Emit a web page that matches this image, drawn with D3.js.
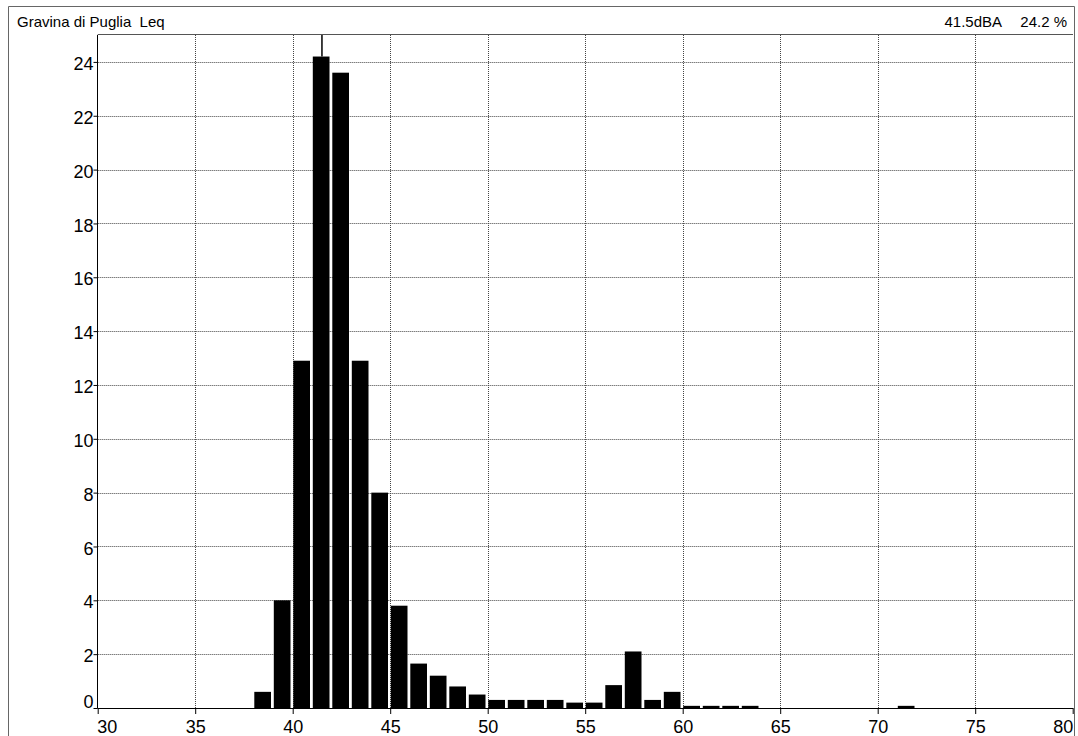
<!DOCTYPE html>
<html>
<head>
<meta charset="utf-8">
<title>Gravina di Puglia Leq</title>
<script src="https://cdn.jsdelivr.net/npm/d3@7"></script>
<style>
  body { margin: 0; background: #fff; }
  text { font-family: Arial, "Liberation Sans", sans-serif; fill: #000; }
</style>
</head>
<body>
<script>
// level class (dBA, lower edge of 1 dB bin) and share of time (%)
var levels = [38, 39, 40, 41, 42, 43, 44, 45, 46, 47, 48, 49, 50, 51, 52, 53, 54, 55, 56, 57, 58, 59, 60, 61, 62, 63, 71];
var percent = [0.6, 4.0, 12.9, 24.2, 23.6, 12.9, 8.0, 3.8, 1.65, 1.2, 0.8, 0.5, 0.3, 0.3, 0.3, 0.3, 0.2, 0.2, 0.85, 2.1, 0.3, 0.6, 0.08, 0.08, 0.08, 0.08, 0.08];
var xTicks = [30, 35, 40, 45, 50, 55, 60, 65, 70, 75, 80];
var yTicks = [0, 2, 4, 6, 8, 10, 12, 14, 16, 18, 20, 22, 24];
var title = "Gravina di Puglia  Leq";
var markerLevel = 41.5, markerValue = 24.2, markerLabel = "41.5dBA", markerPct = "24.2 %";

var width = 1078, height = 736;
var pLeft = 97.7, pRight = 1073, pTop = 35, pBottom = 708;

var svg = d3.select("body").append("svg")
  .attr("width", width).attr("height", height);

var x = d3.scaleLinear().domain([30, 80]).range([pLeft, pRight - 0.3]);
var y = d3.scaleLinear().domain([0, 25]).range([pBottom, pTop]);

// outer frame
svg.append("path")
  .attr("d", "M8.5," + (height + 2) + "V6.5H" + (pRight + 1.5) + "V" + (height + 2))
  .attr("fill", "none").attr("stroke", "#666").attr("stroke-width", 1);

// grid
var grid = svg.append("g").attr("stroke", "#444").attr("stroke-width", 1).attr("stroke-dasharray", "1,1");
grid.selectAll(".gx").data(xTicks.slice(1, -1)).enter().append("line")
  .attr("x1", function (d) { return Math.round(x(d)) + 0.5; })
  .attr("x2", function (d) { return Math.round(x(d)) + 0.5; })
  .attr("y1", pTop).attr("y2", pBottom);
grid.selectAll(".gy").data(yTicks.slice(1)).enter().append("line")
  .attr("y1", function (d) { return Math.round(y(d)) + 0.5; })
  .attr("y2", function (d) { return Math.round(y(d)) + 0.5; })
  .attr("x1", pLeft).attr("x2", pRight);

// bars
svg.selectAll(".bar").data(levels).enter().append("rect")
  .attr("x", function (d) { return x(d) + 0.6; })
  .attr("width", function (d) { return x(d + 1) - x(d) - 2.8; })
  .attr("y", function (d, i) { return y(percent[i]); })
  .attr("height", function (d, i) { return pBottom - y(percent[i]); })
  .attr("fill", "#000");

// cursor line
svg.append("line")
  .attr("x1", x(markerLevel)).attr("x2", x(markerLevel))
  .attr("y1", pTop).attr("y2", y(markerValue))
  .attr("stroke", "#000").attr("stroke-width", 1.5);

// plot box top line
svg.append("line").attr("x1", pLeft).attr("x2", pRight).attr("y1", 34.5).attr("y2", 34.5)
  .attr("stroke", "#555");

// axes
var yAxis = svg.append("g").attr("transform", "translate(" + (pLeft - 0.2) + ",0)")
  .call(d3.axisLeft(y).tickValues(yTicks).tickSize(4).tickPadding(0).tickSizeOuter(0));
yAxis.selectAll("text").attr("font-size", 18).attr("dy", function (d) { return d === 0 ? "-0.05em" : "0.42em"; });
yAxis.select(".domain").attr("d", "M0," + (pBottom + 0.5) + "V" + pTop);

var xAxis = svg.append("g").attr("transform", "translate(0," + pBottom + ")")
  .call(d3.axisBottom(x).tickValues(xTicks).tickSize(6).tickPadding(6).tickSizeOuter(0));
xAxis.selectAll("text").attr("font-size", 18)
  .attr("text-anchor", function (d) { return d === 30 ? "start" : (d === 80 ? "end" : "middle"); })
  .attr("dx", function (d) { return d === 30 ? "-0.05em" : 0; });
xAxis.select(".domain").attr("d", "M" + pLeft + ",0.5H" + pRight);
svg.selectAll(".domain").attr("stroke", "#000");
svg.selectAll(".tick line").attr("stroke", "#000");

// header texts
svg.append("text").attr("x", 17).attr("y", 26.5).attr("font-size", 15)
  .style("white-space", "pre").text(title);
svg.append("text").attr("x", 1002).attr("y", 26.5).attr("font-size", 15)
  .attr("text-anchor", "end").text(markerLabel);
svg.append("text").attr("x", 1067).attr("y", 26.5).attr("font-size", 15)
  .attr("text-anchor", "end").text(markerPct);
</script>
</body>
</html>
